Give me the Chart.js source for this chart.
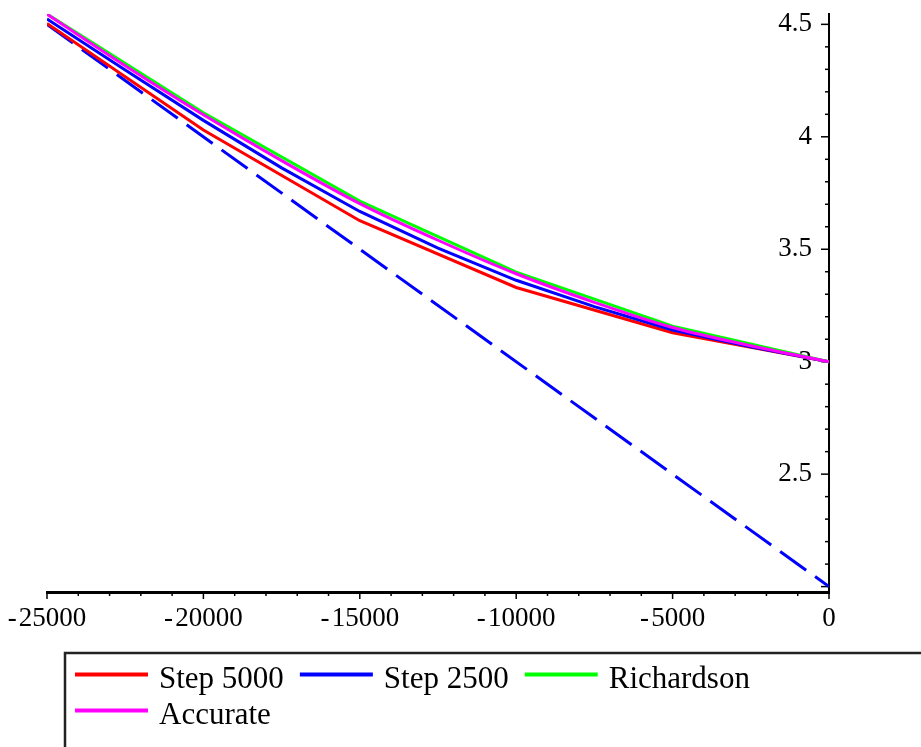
<!DOCTYPE html>
<html>
<head>
<meta charset="utf-8">
<title>Step 5000 / Step 2500 / Richardson / Accurate</title>
<script src="https://cdn.jsdelivr.net/npm/chart.js@4.4.1/dist/chart.umd.min.js"></script>
<style>
  html, body { margin: 0; padding: 0; background: #fff; }
  #wrap { width: 921px; height: 747px; position: relative; }
</style>
</head>
<body>
<div id="wrap"><canvas id="plot"></canvas></div>
<script>
// values
const xCoarse = [-25000, -20000, -15000, -10000, -5000, 0];
const xFine = [-25000, -22500, -20000, -17500, -15000, -12500, -10000, -7500, -5000, -2500, 0];

const step5000 = [4.504, 4.030, 3.627, 3.330, 3.129, 3.000];
const step2500 = [4.524, 4.297, 4.073, 3.862, 3.668, 3.505, 3.362, 3.245, 3.141, 3.066, 3.000];
const richardson = [4.546, 4.107, 3.714, 3.398, 3.158, 3.000];
const accurate = [4.545, 4.316, 4.098, 3.894, 3.703, 3.540, 3.391, 3.264, 3.152, 3.071, 3.000];

const xDashed = [-25000, 0];
const dashed = [4.5, 2.0];

const xTickLabels = [-25000, -20000, -15000, -10000, -5000, 0];
const yTickLabels = [2.5, 3, 3.5, 4, 4.5];

const serif = '"Liberation Serif", "Times New Roman", serif';

function pts(xs, ys) {
    return xs.map((x, i) => ({ x: x, y: ys[i] }));
}

// Maple style ticks: x ticks hang below the axis, y ticks point left
const axisTicks = {
    id: 'axisTicks',
    beforeDatasetsDraw(chart) {
        const { ctx, chartArea, scales } = chart;
        ctx.save();
        ctx.strokeStyle = '#000';
        ctx.lineWidth = 1.5;
        scales.x.ticks.forEach(t => {
            const px = scales.x.getPixelForValue(t.value);
            const len = xTickLabels.includes(t.value) ? 7 : 4;
            ctx.beginPath();
            ctx.moveTo(px, chartArea.bottom);
            ctx.lineTo(px, chartArea.bottom + len);
            ctx.stroke();
        });
        scales.y.ticks.forEach(t => {
            const v = Math.round(t.value * 10) / 10;
            const py = scales.y.getPixelForValue(v);
            const major = Math.abs(v * 2 - Math.round(v * 2)) < 1e-6;
            const len = major ? 8 : 4;
            ctx.beginPath();
            ctx.moveTo(chartArea.right, py);
            ctx.lineTo(chartArea.right - len, py);
            ctx.stroke();
        });
        ctx.restore();
    }
};

// legend box under the plot, open on the right and bottom
const mapleLegend = {
    id: 'mapleLegend',
    afterDraw(chart) {
        const ctx = chart.ctx;
        const W = chart.width, H = chart.height;
        const boxLeft = 65, boxTop = 653;
        ctx.save();
        ctx.strokeStyle = '#222';
        ctx.lineWidth = 2.5;
        ctx.beginPath();
        ctx.moveTo(W, boxTop);
        ctx.lineTo(boxLeft, boxTop);
        ctx.lineTo(boxLeft, H);
        ctx.stroke();

        ctx.font = '31px ' + serif;
        ctx.textBaseline = 'alphabetic';
        ctx.textAlign = 'left';
        let x = 75, y = 674.5;
        chart.data.datasets.filter(d => d.label).forEach(d => {
            const tw = ctx.measureText(d.label).width;
            const w = 73 + 11 + tw;
            if (x + w > W) { x = 75; y += 36; }
            ctx.strokeStyle = d.borderColor;
            ctx.lineWidth = 4;
            ctx.beginPath();
            ctx.moveTo(x, y);
            ctx.lineTo(x + 73, y);
            ctx.stroke();
            ctx.fillStyle = '#000';
            ctx.fillText(d.label, x + 84, y + 13.5);
            x += w + 16;
        });
        ctx.restore();
    }
};

const plot = new Chart(document.getElementById('plot'), {
    type: 'line',
    data: {
        datasets: [
            { label: 'Step 5000', data: pts(xCoarse, step5000), borderColor: '#ff0000', order: 3 },
            { label: 'Step 2500', data: pts(xFine, step2500), borderColor: '#0000ff', order: 2 },
            { label: 'Richardson', data: pts(xCoarse, richardson), borderColor: '#00ff00', order: 1 },
            { label: 'Accurate', data: pts(xFine, accurate), borderColor: '#ff00ff', order: 0,
              cubicInterpolationMode: 'monotone' },
            { label: '', data: pts(xDashed, dashed), borderColor: '#0000ff', borderDash: [32, 11], order: 4 }
        ]
    },
    options: {
        responsive: true,
        maintainAspectRatio: false,
        animation: false,
        parsing: false,
        elements: {
            line: { borderWidth: 3, tension: 0, fill: false },
            point: { radius: 0, hoverRadius: 0 }
        },
        layout: { padding: { left: 47, top: 14, right: 0, bottom: 95 } },
        plugins: {
            legend: { display: false },
            tooltip: { enabled: false }
        },
        scales: {
            x: {
                type: 'linear',
                min: -25000,
                max: 0,
                grid: { display: true, color: 'rgba(0,0,0,0)', drawOnChartArea: false, drawTicks: false },
                border: { display: true, color: '#000', width: 3 },
                ticks: {
                    stepSize: 1000,
                    autoSkip: false,
                    maxRotation: 0,
                    minRotation: 0,
                    padding: 11,
                    color: '#000',
                    font: { family: serif, size: 27 },
                    callback: v => xTickLabels.includes(v) ? (v < 0 ? '-\u200A' + Math.abs(v) : String(v)) : ''
                },
                afterFit: s => { s.height = 60; s.paddingLeft = 0; s.paddingRight = 0; }
            },
            y: {
                type: 'linear',
                position: 'right',
                min: 1.976,
                max: 4.546,
                grid: { display: true, color: 'rgba(0,0,0,0)', drawOnChartArea: false, drawTicks: false },
                border: { display: true, color: '#000', width: 2 },
                ticks: {
                    stepSize: 0.1,
                    includeBounds: false,
                    autoSkip: false,
                    mirror: true,
                    padding: -17,
                    color: '#000',
                    font: { family: serif, size: 27 },
                    callback: v => {
                        const r = Math.round(v * 10) / 10;
                        return yTickLabels.includes(r) ? String(r) : '';
                    }
                },
                afterFit: s => { s.width = 92; s.paddingTop = 0; s.paddingBottom = 0; }
            }
        }
    },
    plugins: [axisTicks, mapleLegend]
});
</script>
</body>
</html>
